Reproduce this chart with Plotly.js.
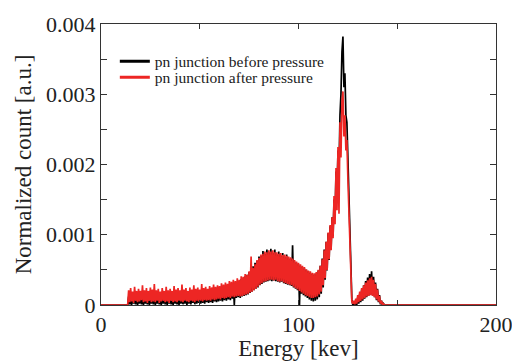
<!DOCTYPE html>
<html>
<head>
<meta charset="utf-8">
<script src="https://cdn.plot.ly/plotly-3.0.1.min.js"></script>
<style>html,body{margin:0;padding:0;background:#fff;}#chart{width:512px;height:361px;}</style>
</head>
<body>
<div id="chart"></div>
<script>
// Energy bins [keV]
const energy = [0,13.5,
14,14.5,15,15.5,16,16.5,17,17.5,18,18.5,19,19.5,20,20.5,21,21.5,22,22.5,23,23.5,
24,24.5,25,25.5,26,26.5,27,27.5,28,28.5,29,29.5,30,30.5,31,31.5,32,32.5,33,33.5,
34,34.5,35,35.5,36,36.5,37,37.5,38,38.5,39,39.5,40,40.5,41,41.5,42,42.5,43,43.5,
44,44.5,45,45.5,46,46.5,47,47.5,48,48.5,49,49.5,50,50.5,51,51.5,52,52.5,53,53.5,
54,54.5,55,55.5,56,56.5,57,57.5,58,58.5,59,59.5,60,60.5,61,61.5,62,62.5,63,63.5,
64,64.5,65,65.5,66,66.5,67,67.5,68,68.5,69,69.5,70,70.5,71,71.5,72,72.5,73,73.5,
74,74.5,75,75.5,76,76.5,77,77.5,78,78.5,79,79.5,80,80.5,81,81.5,82,82.5,83,83.5,
84,84.5,85,85.5,86,86.5,87,87.5,88,88.5,89,89.5,90,90.5,91,91.5,92,92.5,93,93.5,
94,94.5,95,95.5,96,96.5,97,97.5,98,98.5,99,99.5,100,100.5,101,101.5,102,102.5,103,103.5,
104,104.5,105,105.5,106,106.5,107,107.5,108,108.5,109,109.5,110,110.5,111,111.5,112,112.5,113,113.5,
114,114.5,115,115.5,116,116.5,117,117.5,118,118.5,119,119.5,120,120.5,121,121.5,122,122.5,123,123.5,
124,124.5,125,125.5,126,126.5,127,127.5,128,128.5,129,129.5,130,130.5,131,131.5,132,132.5,133,133.5,
134,134.5,135,135.5,136,136.5,137,137.5,138,138.5,139,139.5,140,140.5,141,141.5,142,142.5,143,143.5,
144,200];

// Normalized count, pn junction before pressure
const before = [0,0,
1.2e-4,0.1e-4,0.9e-4,0,1.4e-4,0.2e-4,1.0e-4,0.1e-4,1.3e-4,0,
0.8e-4,0.2e-4,1.5e-4,0.1e-4,1.1e-4,0,1.2e-4,0.2e-4,0.9e-4,0.1e-4,
1.4e-4,0,1.0e-4,0.2e-4,1.3e-4,0.1e-4,1.6e-4,0,1.1e-4,0.2e-4,
1.3e-4,0.1e-4,1.0e-4,0,1.5e-4,0.2e-4,1.2e-4,0.1e-4,1.4e-4,0,
1.1e-4,0.2e-4,1.3e-4,0.1e-4,1.0e-4,0,1.6e-4,0.2e-4,1.2e-4,0.1e-4,
1.4e-4,0,1.3e-4,0.2e-4,1.7e-4,0.1e-4,1.2e-4,0.2e-4,1.5e-4,0,
1.3e-4,0.2e-4,1.6e-4,0.1e-4,1.4e-4,0.3e-4,1.8e-4,0.1e-4,1.5e-4,0.2e-4,
1.7e-4,0.3e-4,1.6e-4,0.2e-4,2.0e-4,0.3e-4,1.7e-4,0.2e-4,1.9e-4,0.4e-4,
1.8e-4,0.3e-4,2.1e-4,0.4e-4,1.9e-4,0.3e-4,2.2e-4,0.5e-4,2.0e-4,0.4e-4,
2.3e-4,0.5e-4,2.2e-4,0.6e-4,2.5e-4,0.5e-4,2.4e-4,0.7e-4,2.7e-4,0.6e-4,
2.6e-4,0.8e-4,2.9e-4,0.7e-4,2.8e-4,0.9e-4,3.0e-4,0,3.1e-4,1.0e-4,
3.3e-4,1.1e-4,3.4e-4,1.0e-4,3.7e-4,1.2e-4,3.8e-4,1.3e-4,4.1e-4,1.4e-4,
4.3e-4,1.5e-4,4.7e-4,1.7e-4,5.0e-4,1.9e-4,5.5e-4,2.1e-4,6.0e-4,2.3e-4,
6.3e-4,2.5e-4,6.9e-4,2.8e-4,7.0e-4,3.0e-4,7.7e-4,3.2e-4,7.3e-4,3.3e-4,
7.9e-4,3.4e-4,7.5e-4,3.5e-4,8.0e-4,3.4e-4,7.4e-4,3.5e-4,7.9e-4,3.4e-4,
7.2e-4,3.3e-4,7.6e-4,3.2e-4,7.0e-4,3.3e-4,7.4e-4,3.1e-4,6.8e-4,3.0e-4,
7.2e-4,2.9e-4,6.6e-4,2.8e-4,6.5e-4,2.7e-4,8.5e-4,2.5e-4,6.2e-4,2.3e-4,
6.0e-4,2.1e-4,5.8e-4,0,5.6e-4,1.6e-4,5.4e-4,1.4e-4,5.2e-4,1.2e-4,
5.0e-4,1.0e-4,4.8e-4,0.8e-4,4.6e-4,0.6e-4,4.4e-4,0.5e-4,4.3e-4,0.6e-4,
4.5e-4,0.8e-4,4.9e-4,1.1e-4,5.6e-4,1.6e-4,6.6e-4,2.5e-4,7.9e-4,3.6e-4,
9.0e-4,4.9e-4,10.2e-4,6.4e-4,11.2e-4,7.9e-4,12.5e-4,9.8e-4,15.0e-4,12.5e-4,
19.0e-4,16.0e-4,22.0e-4,19.0e-4,27.0e-4,30.0e-4,36.0e-4,38.2e-4,31.0e-4,33.0e-4,
27.0e-4,26.0e-4,21.0e-4,15.0e-4,9.0e-4,3.5e-4,0.8e-4,0,0.4e-4,0,
0.6e-4,0,1.1e-4,0.2e-4,1.6e-4,0.4e-4,2.2e-4,0.6e-4,2.8e-4,0.9e-4,
3.4e-4,1.1e-4,3.9e-4,1.3e-4,4.4e-4,1.5e-4,4.8e-4,1.4e-4,4.0e-4,1.1e-4,
3.2e-4,0.7e-4,2.3e-4,0.4e-4,1.4e-4,0.1e-4,0.6e-4,0,0.2e-4,0,
0,0];

// Normalized count, pn junction after pressure
const after = [0,0,
2.1e-4,0.4e-4,2.4e-4,0.5e-4,1.9e-4,0.3e-4,2.6e-4,0.6e-4,2.0e-4,0.4e-4,
2.3e-4,0.5e-4,2.0e-4,0.7e-4,2.8e-4,0.4e-4,2.1e-4,0.5e-4,2.4e-4,0.3e-4,
2.0e-4,0.6e-4,2.5e-4,0.4e-4,2.2e-4,0.5e-4,3.0e-4,0.4e-4,2.1e-4,0.6e-4,
2.3e-4,0.3e-4,1.9e-4,0.5e-4,2.4e-4,0.6e-4,2.0e-4,0.4e-4,2.6e-4,0.5e-4,
2.1e-4,0.3e-4,2.3e-4,0.6e-4,2.0e-4,0.4e-4,2.7e-4,0.5e-4,2.2e-4,0.4e-4,
2.4e-4,0.6e-4,2.1e-4,0.5e-4,2.9e-4,0.4e-4,2.2e-4,0.6e-4,2.4e-4,0.5e-4,
2.0e-4,0.4e-4,2.5e-4,0.6e-4,2.2e-4,0.5e-4,2.8e-4,0.4e-4,2.3e-4,0.6e-4,
2.5e-4,0.5e-4,2.2e-4,0.6e-4,3.0e-4,0.5e-4,2.4e-4,0.7e-4,2.6e-4,0.6e-4,
2.3e-4,0.7e-4,2.7e-4,0.6e-4,2.5e-4,0.8e-4,2.9e-4,0.7e-4,2.6e-4,0.8e-4,
2.8e-4,0.9e-4,2.7e-4,0.8e-4,3.1e-4,1.0e-4,2.9e-4,0.9e-4,3.2e-4,1.0e-4,
3.0e-4,1.1e-4,3.4e-4,1.0e-4,3.3e-4,1.2e-4,3.6e-4,1.1e-4,3.4e-4,1.2e-4,
3.8e-4,1.3e-4,3.6e-4,1.2e-4,4.1e-4,1.3e-4,4.0e-4,1.4e-4,4.4e-4,1.5e-4,
4.3e-4,1.6e-4,4.8e-4,1.8e-4,6.9e-4,1.9e-4,5.3e-4,2.1e-4,5.8e-4,2.3e-4,
6.4e-4,2.6e-4,6.7e-4,2.9e-4,7.2e-4,3.1e-4,7.3e-4,3.3e-4,7.6e-4,3.4e-4,
7.5e-4,3.5e-4,7.8e-4,3.6e-4,7.6e-4,3.6e-4,7.8e-4,3.5e-4,7.5e-4,3.6e-4,
7.5e-4,3.4e-4,7.3e-4,3.3e-4,7.4e-4,3.4e-4,7.1e-4,3.2e-4,7.2e-4,3.1e-4,
7.0e-4,3.0e-4,6.9e-4,2.9e-4,6.8e-4,2.8e-4,6.6e-4,2.6e-4,6.4e-4,2.4e-4,
6.2e-4,2.2e-4,6.0e-4,2.0e-4,5.8e-4,1.8e-4,5.6e-4,1.6e-4,5.4e-4,1.4e-4,
5.1e-4,1.3e-4,4.9e-4,1.1e-4,4.8e-4,1.0e-4,4.6e-4,1.0e-4,4.5e-4,1.1e-4,
4.7e-4,1.2e-4,5.0e-4,1.5e-4,5.6e-4,1.9e-4,6.5e-4,2.8e-4,7.8e-4,3.8e-4,
9.0e-4,5.0e-4,10.3e-4,6.5e-4,11.4e-4,7.8e-4,12.5e-4,9.5e-4,15.5e-4,11.5e-4,
19.5e-4,13.5e-4,22.5e-4,13.0e-4,26.0e-4,21.0e-4,29.0e-4,30.4e-4,24.0e-4,27.0e-4,
22.0e-4,23.5e-4,18.0e-4,13.0e-4,8.0e-4,2.5e-4,0.5e-4,0.2e-4,0.6e-4,0.1e-4,
0.9e-4,0.2e-4,1.4e-4,0.4e-4,1.9e-4,0.6e-4,2.4e-4,0.8e-4,2.8e-4,1.0e-4,
3.2e-4,1.2e-4,3.5e-4,1.3e-4,3.8e-4,1.4e-4,4.0e-4,1.3e-4,3.6e-4,1.1e-4,
3.0e-4,0.8e-4,2.2e-4,0.5e-4,1.3e-4,0.2e-4,0.6e-4,0.1e-4,0.2e-4,0,
0,0];

const seriesNames = ['pn junction before pressure', 'pn junction after pressure'];
const seriesColors = ['#000000', '#ed2624'];

const xTickVals = [0, 50, 100, 150, 200];
const xTickText = ['0', '', '100', '', '200'];
const yTickVals = [0, 0.0005, 0.001, 0.0015, 0.002, 0.0025, 0.003, 0.0035, 0.004];
const yTickText = ['0', '', '0.001', '', '0.002', '', '0.003', '', '0.004'];

const serif = 'Liberation Serif, Times New Roman, serif';

const traces = [
  {x: energy, y: before, type: 'scatter', mode: 'lines', line: {color: seriesColors[0], width: 1.7}, showlegend: false, hoverinfo: 'skip'},
  {x: energy, y: after, type: 'scatter', mode: 'lines', line: {color: seriesColors[1], width: 1.7}, showlegend: false, hoverinfo: 'skip'},
  {x: [null], y: [null], type: 'scatter', mode: 'lines', name: seriesNames[0], line: {color: seriesColors[0], width: 3}, legend: 'legend'},
  {x: [null], y: [null], type: 'scatter', mode: 'lines', name: seriesNames[1], line: {color: seriesColors[1], width: 3}, legend: 'legend2'}
];

const axisCommon = {
  ticks: 'inside', tickcolor: '#333', tickwidth: 1,
  showline: true, linecolor: '#333', linewidth: 1, mirror: 'ticks',
  showgrid: false, zeroline: false, automargin: false,
  ticklabeloverflow: 'allow',
  tickfont: {family: serif, size: 22, color: '#222'}
};

const legendCommon = {
  xanchor: 'left', yanchor: 'middle', bgcolor: 'rgba(0,0,0,0)', borderwidth: 0,
  font: {family: serif, size: 15.5, color: '#1a1a1a'}
};

const layout = {
  width: 512, height: 361,
  margin: {l: 101, r: 16, t: 24, b: 56, pad: 0},
  paper_bgcolor: '#ffffff', plot_bgcolor: '#ffffff',
  font: {family: serif, color: '#222'},
  showlegend: true,
  legend: Object.assign({x: 0.035, y: 0.866}, legendCommon),
  legend2: Object.assign({x: 0.035, y: 0.809}, legendCommon),
  xaxis: Object.assign({}, axisCommon, {
    range: [0, 200], tickmode: 'array', tickvals: xTickVals, ticktext: xTickText, ticklen: 5,
    title: {text: 'Energy [kev]', font: {family: serif, size: 23, color: '#222'}, standoff: 4}
  }),
  yaxis: Object.assign({}, axisCommon, {
    range: [0, 0.004], tickmode: 'array', tickvals: yTickVals, ticktext: yTickText, ticklen: 6,
    title: {text: 'Normalized count [a.u.]', font: {family: serif, size: 23, color: '#222'}, standoff: 8}
  })
};

Plotly.newPlot('chart', traces, layout, {staticPlot: true, displayModeBar: false});
</script>
</body>
</html>
